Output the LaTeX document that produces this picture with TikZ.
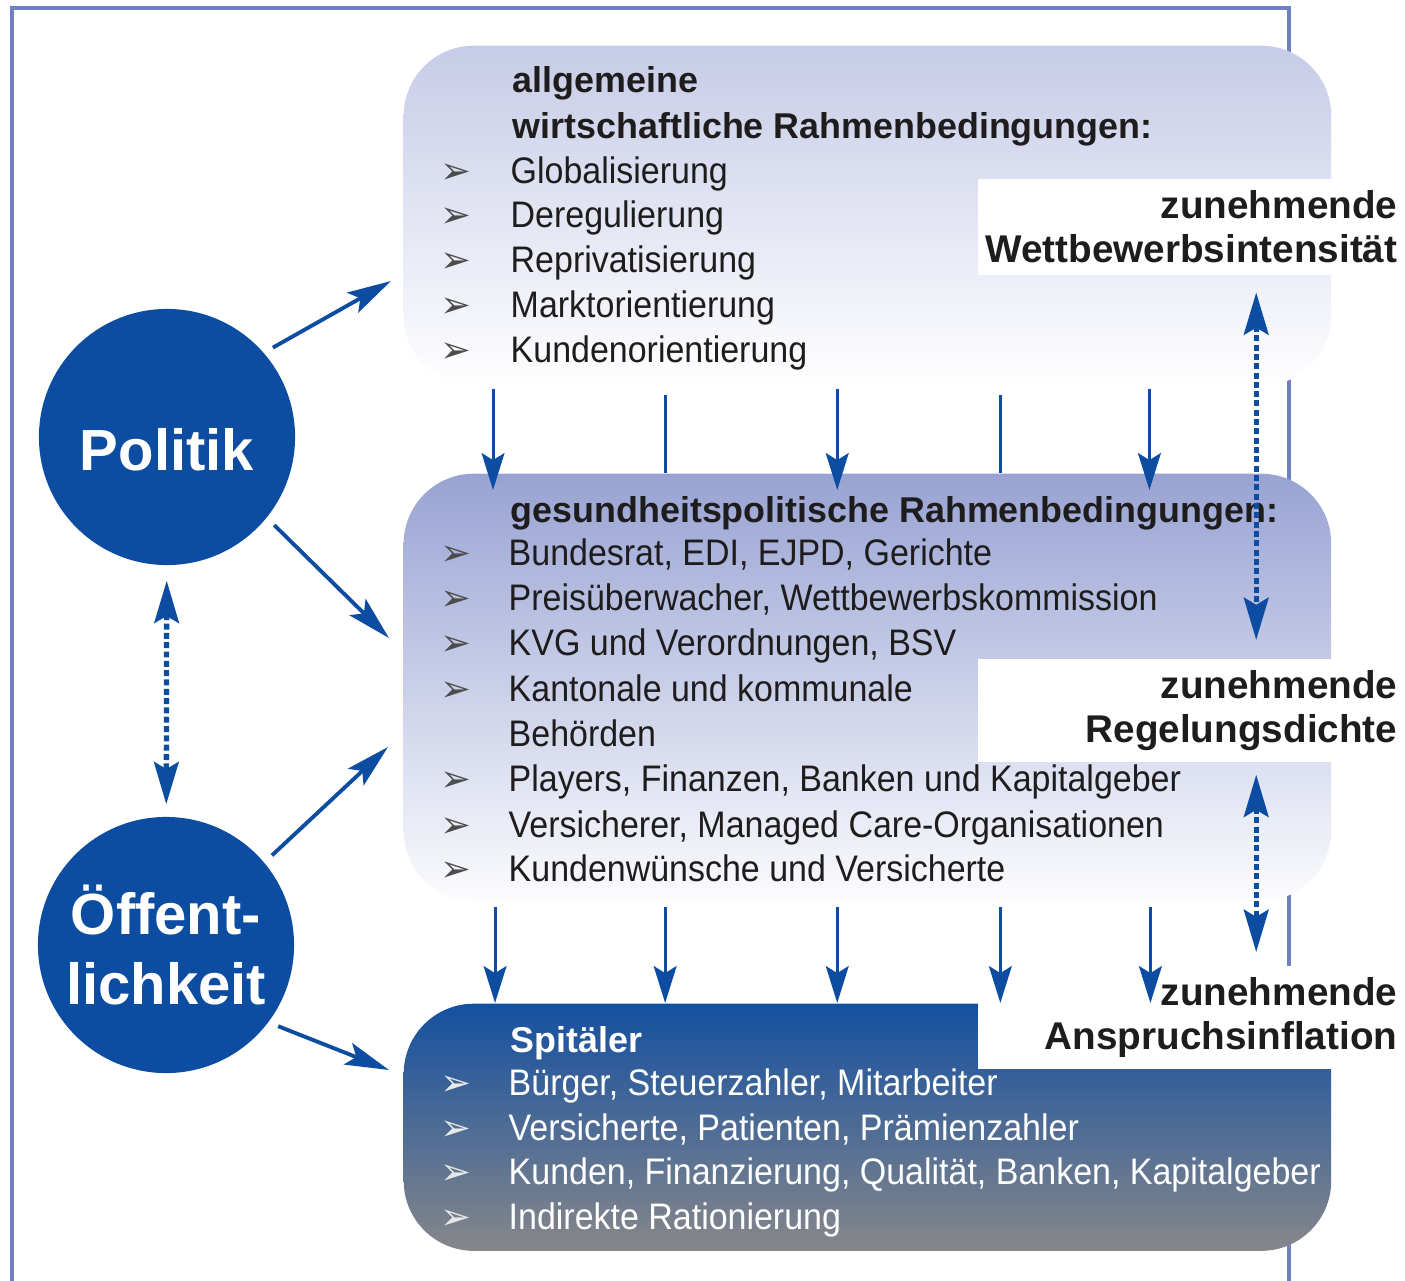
\documentclass[tikz,border=0pt]{standalone}
\usepackage{fontspec}
\setmainfont{Liberation Sans}
\newfontfamily\condfont[FakeStretch=0.92]{Liberation Sans}
\newfontfamily\bulfont{DejaVu Sans}
\usetikzlibrary{arrows.meta,positioning}

\definecolor{frameblue}{RGB}{112,128,192}
\definecolor{polblue}{RGB}{12,77,162}
\definecolor{wtop}{RGB}{198,203,231}
\definecolor{gtop}{RGB}{152,163,211}
\definecolor{spitop}{RGB}{20,80,160}
\definecolor{spibot}{RGB}{135,135,138}
\definecolor{textgray}{RGB}{30,28,28}

\tikzset{
  box/.style={rounded corners=0.7cm, minimum width=9.27cm, anchor=north west, inner sep=0pt},
  lab/.style={fill=white, anchor=north east, minimum width=4.26cm, minimum height=0.96cm,
    text width=4.12cm, align=right, inner xsep=0.07cm, text=textgray,
    font=\bfseries\fontsize{11}{12.4}\selectfont},
  circ/.style={circle, fill=polblue, minimum size=2.56cm, inner sep=0pt, text=white,
    align=center, font=\bfseries\fontsize{16.5}{19.9}\selectfont},
  head/.style={anchor=base west, inner sep=0pt, text=textgray, font=\bfseries\fontsize{10.2}{12}\selectfont},
  item/.style={anchor=base west, inner sep=0pt, text=textgray, font=\condfont\fontsize{10.5}{12}\selectfont},
  bul/.style={anchor=base west, inner sep=0pt, text=black!70, font=\bulfont\fontsize{10.5}{11}\selectfont},
  arr/.style={polblue, line width=0.85pt, -{Stealth[length=10.5pt, width=6.5pt, inset=2pt]}},
  bigarr/.style={polblue, line width=1.1pt, shorten <=0.1cm, -{Stealth[length=12.5pt, width=6.5pt, inset=2.5pt]}},
  dotarr/.style={polblue, line width=1.5pt, dash pattern=on 1.7pt off 0.95pt,
    {Stealth[length=12pt, width=7pt, inset=2pt]}-{Stealth[length=12pt, width=7pt, inset=2pt]}}
}

\begin{document}
\begin{tikzpicture}[x=0.01cm, y=-0.01cm]
    \useasboundingbox (0,0) rectangle (1405,1281);

    % outer frame
    \draw[frameblue, line width=1.1pt] (12,1330) |- (1289,8) -- (1289,1330);

    % the three boxes
    \node[box, minimum height=3.4cm, top color=wtop, bottom color=white] (wirt) at (403,45) {};
    \node[box, minimum height=4.27cm, top color=gtop, bottom color=white!97!gtop] (ges) at (403,473) {};
    \node[box, minimum height=2.47cm, top color=spitop, bottom color=spibot] (spit) at (403,1003) {};

    % labels on the right
    \node[lab] (wett) at (1405,178) {zunehmende\\Wettbewerbsintensität};
    \node[lab] (regel) at (1405,658) {zunehmende\\Regelungsdichte};
    \node[lab] (anspr) at (1405,965) {zunehmende\\Anspruchsinflation};

    % circles
    \node[circ, text height=0.8cm, text depth=0.14cm] (pol) at (167,437) {Politik};
    \node[circ] (oeff) at (166,945) {Öffent-\\lichkeit};

    % box 1
    \node[head] (allg) at (512,92) {allgemeine};
    \node[head] (wirth) at (512,138) {wirtschaftliche Rahmenbedingungen:};
    \foreach \t [count=\i] in {Globalisierung, Deregulierung, Reprivatisierung,
        Marktorientierung, Kundenorientierung} {
      \node[bul] (wb\i) at (440,{183+44.8*(\i-1)}) {➢};
      \node[item] (wi\i) at (510,{183+44.8*(\i-1)}) {\t};
    }

    % box 2
    \node[head] (gesh) at (510,522) {gesundheitspolitische Rahmenbedingungen:};
    \foreach \t/\y [count=\i] in {{Bundesrat, EDI, EJPD, Gerichte}/565,
        {Preisüberwacher, Wettbewerbskommission}/610,
        {KVG und Verordnungen, BSV}/655,
        {Kantonale und kommunale}/701,
        {Players, Finanzen, Banken und Kapitalgeber}/791,
        {Versicherer, Managed Care-Organisationen}/837,
        {Kundenwünsche und Versicherte}/881} {
      \node[bul] (gb\i) at (440,\y) {➢};
      \node[item] (gi\i) at (508,\y) {\t};
    }
    \node[item] (behoerden) at (508,746) {Behörden};

    % box 3
    \node[head, text=white] (spith) at (510,1052) {Spitäler};
    \foreach \t/\y [count=\i] in {{Bürger, Steuerzahler, Mitarbeiter}/1095,
        {Versicherte, Patienten, Prämienzahler}/1140,
        {Kunden, Finanzierung, Qualität, Banken, Kapitalgeber}/1184,
        {Indirekte Rationierung}/1229} {
      \node[bul, text=white!82!gray] (sb\i) at (440,\y) {➢};
      \node[item, text=white] (si\i) at (508,\y) {\t};
    }

    % arrows between the boxes
    \foreach \dx in {0.90,4.34,7.46}
      \draw[arr] ([xshift=\dx cm, yshift=-0.02cm]wirt.south west) -- ([xshift=\dx cm, yshift=-0.17cm]ges.north west);
    \foreach \dx in {2.62,5.97}
      \draw[polblue, line width=0.85pt] ([xshift=\dx cm, yshift=-0.08cm]wirt.south west) -- ([xshift=\dx cm]ges.north west);
    \foreach \dx in {0.92,2.62,4.34,5.97,7.47}
      \draw[arr] ([xshift=\dx cm, yshift=-0.05cm]ges.south west) -- ([xshift=\dx cm]spit.north west);

    % arrows from the circles
    \coordinate (pw) at (391,281);
    \coordinate (pg) at (389,638);
    \coordinate (og) at (388,747);
    \coordinate (os) at (389,1070);
    \draw[bigarr] (pol.41) -- (pw);
    \draw[bigarr] (pol.-39) -- (pg);
    \draw[bigarr] (oeff.40) -- (og);
    \draw[bigarr] (oeff.-37) -- (os);

    % dotted double arrows
    \draw[dotarr, shorten <=0.15cm, shorten >=0.12cm] (pol) -- (oeff);
    \draw[dotarr, shorten <=0.17cm, shorten >=0.18cm] ([xshift=0.65cm]wett.south) -- ([xshift=0.65cm]regel.north);
    \draw[dotarr, shorten <=0.12cm, shorten >=0.13cm] ([xshift=0.65cm]regel.south) -- ([xshift=0.65cm]anspr.north);
\end{tikzpicture}
\end{document}
